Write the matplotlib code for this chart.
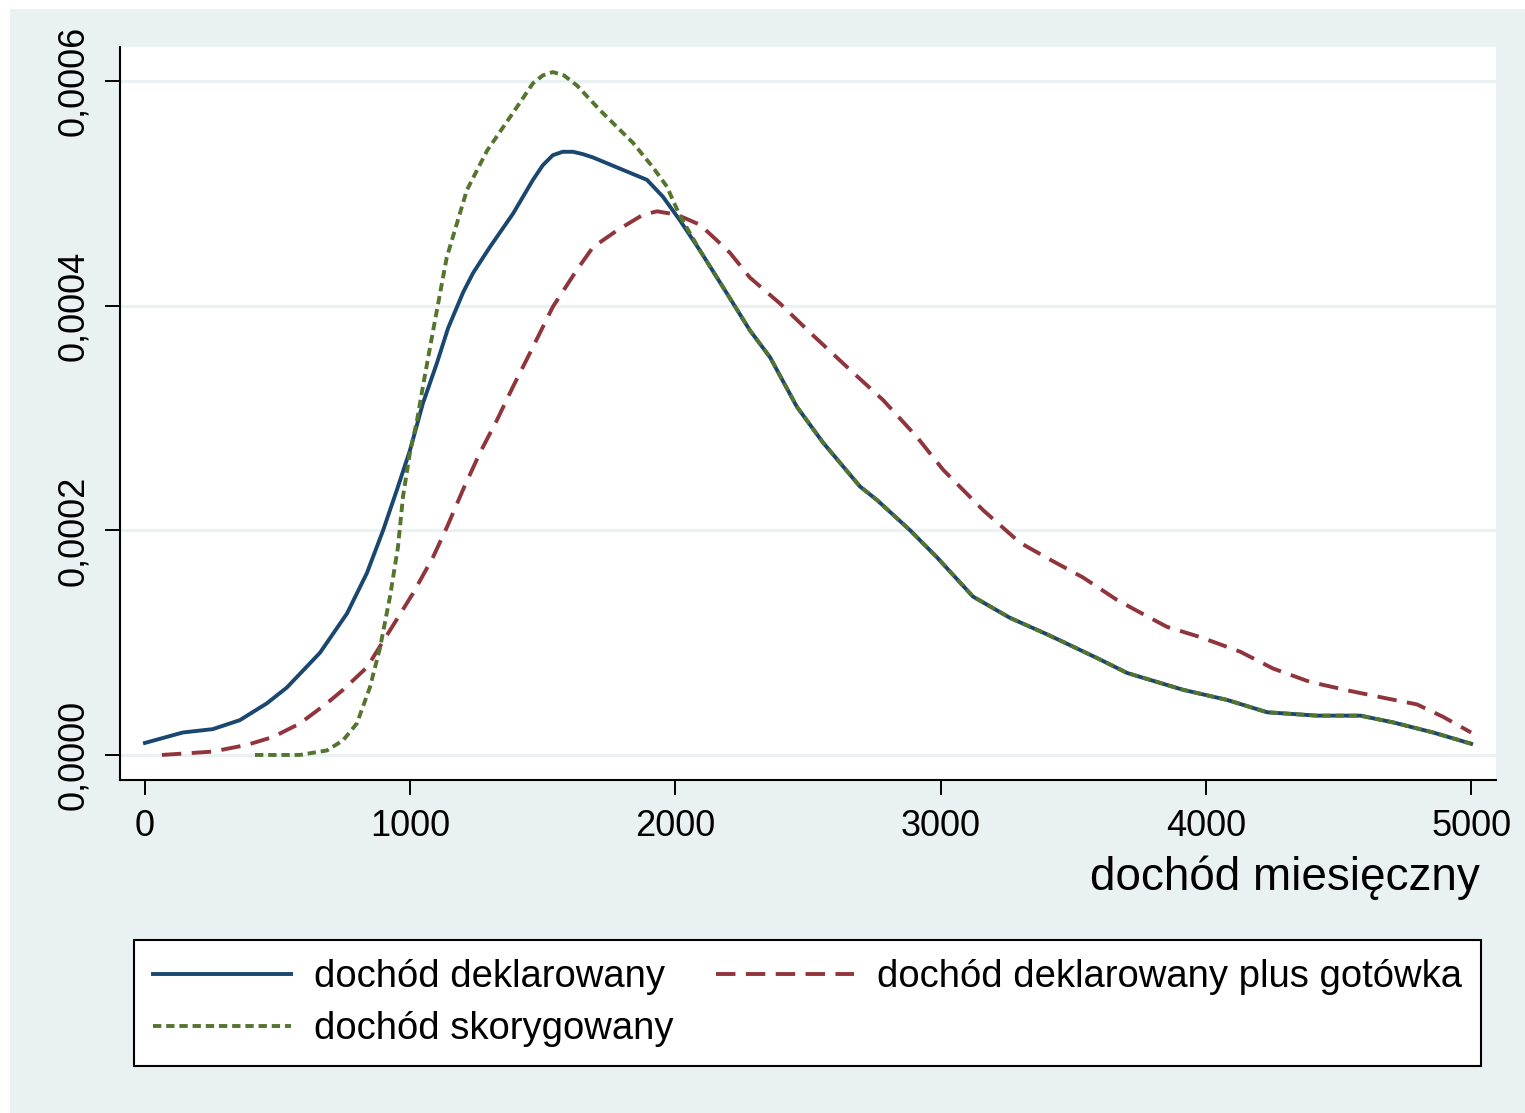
import matplotlib
matplotlib.use('Agg')
import matplotlib.pyplot as plt
from matplotlib.patches import Rectangle
from matplotlib.ticker import FuncFormatter

# values (density in units of 1e-4)
x_dekl = [0, 143, 256, 358, 460, 535, 660, 762, 837, 898, 950, 999, 1048, 1101,
          1143, 1200, 1237, 1300, 1388, 1463, 1500, 1538, 1575, 1614, 1650, 1689,
          1791, 1893, 1953, 2017, 2093, 2194, 2281, 2357, 2458, 2557, 2696, 2760,
          2885, 2986, 3122, 3262, 3386, 3450, 3601, 3703, 3914, 4080, 4231, 4419,
          4582, 4706, 4857, 5000]
y_dekl = [0.107, 0.20, 0.23, 0.31, 0.46, 0.60, 0.91, 1.26, 1.62, 2.00, 2.36, 2.71, 3.13, 3.49,
          3.80, 4.12, 4.29, 4.52, 4.82, 5.12, 5.25, 5.34, 5.37, 5.37, 5.35, 5.32,
          5.22, 5.12, 4.97, 4.76, 4.49, 4.11, 3.78, 3.54, 3.10, 2.78, 2.39, 2.27,
          2.00, 1.76, 1.41, 1.22, 1.09, 1.02, 0.85, 0.73, 0.58, 0.49, 0.38, 0.35,
          0.35, 0.29, 0.20, 0.10]

x_skor = [415, 584, 686, 747, 799, 848, 886, 924, 954, 973, 999, 1026, 1048, 1082,
          1138, 1214, 1290, 1403, 1463, 1500, 1538, 1580, 1629, 1716, 1840, 1916,
          1968, 2017, 2093, 2194, 2281, 2357, 2458, 2557, 2696, 2760, 2885, 2986,
          3122, 3262, 3386, 3450, 3601, 3703, 3914, 4080, 4231, 4419, 4582, 4706,
          4857, 5000]
y_skor = [0.0, 0.0, 0.04, 0.13, 0.28, 0.60, 0.95, 1.41, 1.85, 2.30, 2.69, 2.98, 3.28, 3.72,
          4.43, 5.03, 5.38, 5.77, 5.98, 6.05, 6.08, 6.05, 5.96, 5.74, 5.45, 5.23,
          5.06, 4.80, 4.49, 4.11, 3.78, 3.54, 3.10, 2.78, 2.39, 2.27, 2.00, 1.76,
          1.41, 1.22, 1.09, 1.02, 0.85, 0.73, 0.58, 0.49, 0.38, 0.35, 0.35, 0.29,
          0.20, 0.10]

x_got = [64, 256, 385, 483, 584, 686, 747, 837, 924, 1011, 1086, 1139, 1199, 1263,
         1327, 1388, 1452, 1538, 1629, 1689, 1780, 1878, 1931, 2006, 2093, 2157,
         2206, 2281, 2394, 2508, 2658, 2783, 2911, 3009, 3160, 3299, 3412, 3537,
         3665, 3790, 3854, 3978, 4129, 4253, 4393, 4544, 4668, 4796, 4894, 5000]
y_got = [0.0, 0.03, 0.09, 0.16, 0.28, 0.46, 0.58, 0.78, 1.11, 1.44, 1.76, 2.03, 2.36, 2.69,
         2.98, 3.28, 3.58, 3.99, 4.32, 4.52, 4.67, 4.81, 4.84, 4.81, 4.72, 4.58,
         4.47, 4.25, 4.02, 3.76, 3.43, 3.16, 2.83, 2.54, 2.18, 1.89, 1.74, 1.58,
         1.38, 1.22, 1.14, 1.05, 0.92, 0.77, 0.65, 0.57, 0.51, 0.45, 0.34, 0.20]

labels = ['dochód deklarowany', 'dochód deklarowany plus gotówka', 'dochód skorygowany']
x_ticks = [0, 1000, 2000, 3000, 4000, 5000]
y_ticks = [0, 0.0002, 0.0004, 0.0006]

bg = '#EAF1F3'
plt.rcParams['font.family'] = ['Liberation Sans', 'DejaVu Sans']
plt.rcParams['lines.scale_dashes'] = False

fig = plt.figure(figsize=(15.25, 11.13), dpi=100)
fig.patch.set_facecolor('white')
fig.patches.append(Rectangle((10 / 1525, 0), 1515 / 1525, 1104 / 1113,
                             transform=fig.transFigure, facecolor=bg,
                             edgecolor='none', zorder=-10))

ax = fig.add_axes([120 / 1525, 1 - 780 / 1113, 1376 / 1525, 733 / 1113])
ax.set_facecolor('white')

s = 1e-4
lw = 2.8
l1, = ax.plot(x_dekl, [v * s for v in y_dekl], color='#1A476F', lw=lw,
              solid_joinstyle='round', zorder=3)
l2, = ax.plot(x_got, [v * s for v in y_got], color='#90353B', lw=lw,
              dashes=(14, 7.5), zorder=3)
l3, = ax.plot(x_skor, [v * s for v in y_skor], color='#55752F', lw=lw,
              dashes=(6, 3.5), zorder=4)

ax.set_xlim(-94, 5094)
ax.set_ylim(-0.0000223, 0.0006303)
ax.set_xticks(x_ticks)
ax.set_yticks(y_ticks)
ax.yaxis.set_major_formatter(FuncFormatter(lambda v, p: ('%.4f' % v).replace('.', ',')))

ax.grid(axis='y', color=bg, lw=2.2, zorder=0)
ax.set_axisbelow(True)
for side in ['top', 'right']:
    ax.spines[side].set_visible(False)
for side in ['left', 'bottom']:
    ax.spines[side].set_linewidth(1.5)

ax.tick_params(axis='both', direction='out', length=11, width=1.4,
               labelsize=26, colors='black')
ax.tick_params(axis='x', pad=10)
ax.tick_params(axis='y', pad=10, labelrotation=90)
for t in ax.get_yticklabels():
    t.set_va('center')

ax.set_xlabel('dochód miesięczny', fontsize=33, ha='right')
ax.xaxis.set_label_coords(0.988, -0.103)

leg = fig.legend([l1, l3, l2], [labels[0], labels[2], labels[1]], ncol=2,
                 loc='upper left', mode='expand',
                 bbox_to_anchor=(134 / 1525, 1 - 940 / 1113, 1347 / 1525, 0),
                 fontsize=27.5, frameon=True, fancybox=False, borderaxespad=0,
                 handlelength=3.6, handletextpad=0.6, borderpad=0.5,
                 labelspacing=0.42, framealpha=1, facecolor='white')
leg.get_frame().set_edgecolor('black')
leg.get_frame().set_linewidth(1.5)

fig.savefig('out.png', dpi=100, facecolor=fig.get_facecolor())
